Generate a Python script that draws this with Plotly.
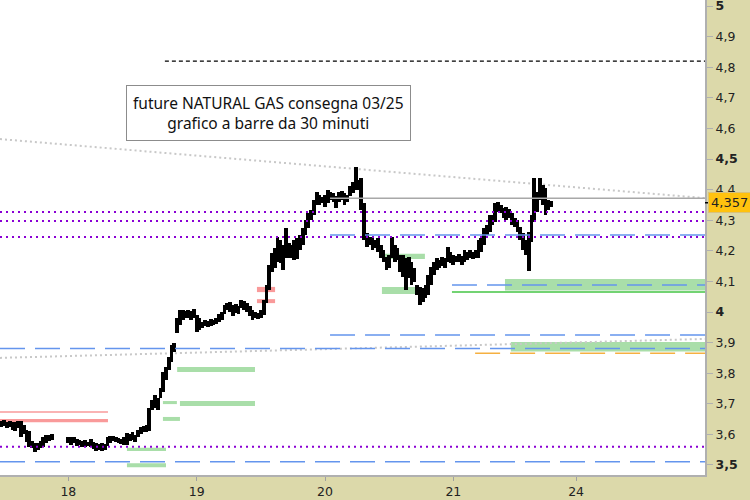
import plotly.graph_objects as go

# ---------------- data ----------------
bar_index = list(range(0, 19)) + list(range(24, 198))
lows = [
    3.625, 3.628, 3.620, 3.625, 3.615, 3.610, 3.620, 3.590, 3.600, 3.575,
    3.560, 3.555, 3.543, 3.550, 3.555, 3.560, 3.572, 3.578, 3.582,
    3.572, 3.565, 3.572, 3.562, 3.565, 3.560, 3.560, 3.562, 3.560, 3.552,
    3.546, 3.550, 3.546, 3.550, 3.562, 3.572, 3.578, 3.575, 3.572, 3.569,
    3.565, 3.565, 3.578, 3.582, 3.575, 3.591, 3.601, 3.608, 3.608, 3.611,
    3.680, 3.686, 3.680, 3.719, 3.739, 3.778, 3.810, 3.837, 3.869, 3.931,
    3.957, 3.974, 3.980, 3.980, 3.974, 3.980, 3.935, 3.941, 3.948, 3.954,
    3.951, 3.954, 3.957, 3.961, 3.967, 3.974, 3.993, 4.007, 4.000, 3.987,
    3.997, 3.993, 4.013, 4.007, 4.000, 3.987, 3.974, 3.980, 3.977, 3.980,
    3.990, 4.030, 4.072, 4.131, 4.144, 4.163, 4.160, 4.137, 4.176, 4.176,
    4.176, 4.170, 4.173, 4.203, 4.219, 4.252, 4.275, 4.301, 4.317, 4.350,
    4.350, 4.356, 4.343, 4.356, 4.366, 4.360, 4.340, 4.360, 4.366, 4.350,
    4.360, 4.379, 4.389, 4.399, 4.399, 4.333, 4.235, 4.212, 4.219, 4.203,
    4.209, 4.196, 4.176, 4.163, 4.137, 4.144, 4.176, 4.163, 4.170, 4.131,
    4.114, 4.072, 4.111, 4.088, 4.098, 4.056, 4.023, 4.033, 4.046, 4.056,
    4.088, 4.121, 4.137, 4.144, 4.150, 4.144, 4.163, 4.160, 4.154, 4.163,
    4.163, 4.154, 4.163, 4.170, 4.176, 4.173, 4.176, 4.176, 4.196, 4.219,
    4.252, 4.260, 4.284, 4.294, 4.327, 4.324, 4.307, 4.301, 4.307, 4.284,
    4.278, 4.261, 4.235, 4.203, 4.186, 4.134, 4.229, 4.294, 4.327, 4.366,
    4.350, 4.317, 4.333, 4.343,
]
highs = [
    3.645, 3.648, 3.640, 3.643, 3.640, 3.640, 3.645, 3.645, 3.630, 3.615,
    3.610, 3.580, 3.572, 3.572, 3.580, 3.590, 3.598, 3.598, 3.602,
    3.592, 3.590, 3.592, 3.585, 3.582, 3.578, 3.582, 3.575, 3.585, 3.575,
    3.572, 3.568, 3.572, 3.568, 3.592, 3.595, 3.595, 3.592, 3.588, 3.585,
    3.592, 3.605, 3.601, 3.608, 3.598, 3.614, 3.624, 3.627, 3.630, 3.686,
    3.712, 3.729, 3.719, 3.752, 3.804, 3.820, 3.853, 3.892, 3.899, 3.980,
    4.007, 4.007, 4.003, 4.007, 4.003, 4.010, 3.990, 3.980, 3.967, 3.974,
    3.970, 3.977, 3.974, 3.980, 3.993, 3.999, 4.023, 4.030, 4.033, 4.023,
    4.026, 4.020, 4.039, 4.036, 4.030, 4.020, 4.007, 4.000, 3.997, 4.007,
    4.039, 4.088, 4.154, 4.193, 4.209, 4.245, 4.235, 4.219, 4.275, 4.225,
    4.219, 4.235, 4.242, 4.252, 4.275, 4.301, 4.324, 4.333, 4.366, 4.392,
    4.382, 4.376, 4.382, 4.399, 4.392, 4.389, 4.379, 4.392, 4.395, 4.389,
    4.382, 4.412, 4.425, 4.474, 4.431, 4.438, 4.356, 4.258, 4.245, 4.242,
    4.235, 4.242, 4.219, 4.203, 4.180, 4.186, 4.245, 4.219, 4.209, 4.186,
    4.186, 4.176, 4.180, 4.163, 4.144, 4.088, 4.082, 4.078, 4.088, 4.121,
    4.147, 4.163, 4.176, 4.170, 4.180, 4.176, 4.212, 4.196, 4.186, 4.183,
    4.190, 4.183, 4.203, 4.196, 4.203, 4.196, 4.203, 4.235, 4.242, 4.275,
    4.284, 4.317, 4.317, 4.356, 4.360, 4.350, 4.340, 4.343, 4.337, 4.324,
    4.307, 4.301, 4.278, 4.258, 4.235, 4.261, 4.317, 4.438, 4.392, 4.438,
    4.415, 4.405, 4.366, 4.363,
]

day_labels = ["18", "19", "20", "21", "24"]
day_start_bar = [24, 70, 116, 162, 206]

y_tick_vals = [3.5, 3.6, 3.7, 3.8, 3.9, 4.0, 4.1, 4.2, 4.3, 4.4, 4.5, 4.6, 4.7, 4.8, 4.9, 5.0]
y_tick_text = ["<b>3,5</b>", "3,6", "3,7", "3,8", "3,9", "<b>4</b>", "4,1", "4,2", "4,3",
               "4,4", "<b>4,5</b>", "4,6", "4,7", "4,8", "4,9", "<b>5</b>"]
last_price = 4.357
last_price_text = "4,357"

title_lines = ["future NATURAL GAS consegna 03/25", "grafico a barre da 30 minuti"]

# levels: (price, start bar)
purple_dotted = [4.327, 4.297, 4.245, 3.560]
blue_dashed = [(3.881, -0.5), (3.511, -0.5), (4.252, 117.8), (3.925, 117.8), (4.088, 161.5)]
black_dashed = [(4.820, 58.6)]
grey_solid = [(4.372, 117.8)]
green_solid = [(4.065, 161.5)]
orange_dashed = [(3.865, 169.8)]
red_thin = [(3.673, -0.5, 38.2)]
# zones: (x0 bar, x1 bar, low price, high price)
red_zones = [(-0.5, 38.2, 3.640, 3.650), (91.6, 98.1, 4.065, 4.082), (91.6, 98.1, 4.029, 4.042)]
green_zones = [
    (180.5, 252.2, 4.070, 4.108), (182.6, 252.2, 3.871, 3.902),
    (136.4, 151.8, 4.173, 4.190), (136.4, 149.3, 4.059, 4.082),
    (63.0, 90.9, 3.804, 3.820), (64.0, 90.9, 3.693, 3.709),
    (57.9, 62.9, 3.699, 3.709), (57.9, 64.0, 3.644, 3.657),
    (45.0, 59.0, 3.546, 3.556), (45.0, 59.0, 3.493, 3.506),
]
# trend lines: (x0, y0, x1, y1)
trend_lines = [(-0.5, 4.565, 252.2, 4.372), (-0.5, 3.850, 252.2, 3.912)]

X_MIN, X_MAX = -0.5, 252.2
Y_MIN, Y_MAX = 3.4673, 5.0196

# ---------------- figure ----------------
fig = go.Figure()
fig.add_trace(go.Bar(
    x=bar_index,
    y=[h - l for h, l in zip(highs, lows)],
    base=lows,
    width=1.35,
    marker=dict(color="black", line=dict(width=0)),
    hoverinfo="skip",
    showlegend=False,
))

shapes = []
for x0, x1, lo, hi in green_zones:
    shapes.append(dict(type="rect", xref="x", yref="y", x0=x0, x1=x1, y0=lo, y1=hi,
                       fillcolor="#A9DEA9", line=dict(width=0), layer="below"))
for x0, x1, lo, hi in red_zones:
    shapes.append(dict(type="rect", xref="x", yref="y", x0=x0, x1=x1, y0=lo, y1=hi,
                       fillcolor="#F99A9A", line=dict(width=0), layer="below"))
for p, x0, x1 in red_thin:
    shapes.append(dict(type="line", xref="x", yref="y", x0=x0, x1=x1, y0=p, y1=p,
                       line=dict(color="#F99A9A", width=1.5), layer="below"))
for x0, y0, x1, y1 in trend_lines:
    shapes.append(dict(type="line", xref="x", yref="y", x0=x0, x1=x1, y0=y0, y1=y1,
                       line=dict(color="#C8C8C8", width=2, dash="2px,3px"), layer="below"))
for p, x0 in blue_dashed:
    shapes.append(dict(type="line", xref="x", yref="y", x0=x0, x1=X_MAX, y0=p, y1=p,
                       line=dict(color="#6495ED", width=1.5, dash="25px,10px"), layer="above"))
for p, x0 in orange_dashed:
    shapes.append(dict(type="line", xref="x", yref="y", x0=x0, x1=X_MAX, y0=p, y1=p,
                       line=dict(color="#F5B041", width=1.5, dash="25px,10px"), layer="above"))
for p, x0 in green_solid:
    shapes.append(dict(type="line", xref="x", yref="y", x0=x0, x1=X_MAX, y0=p, y1=p,
                       line=dict(color="#44C444", width=1.5), layer="above"))
for p, x0 in grey_solid:
    shapes.append(dict(type="line", xref="x", yref="y", x0=x0, x1=X_MAX, y0=p, y1=p,
                       line=dict(color="#A8A8A8", width=1.5), layer="above"))
for p, x0 in black_dashed:
    shapes.append(dict(type="line", xref="x", yref="y", x0=x0, x1=X_MAX, y0=p, y1=p,
                       line=dict(color="black", width=1.2, dash="4px,3px"), layer="above"))
for p in purple_dotted:
    shapes.append(dict(type="line", xref="x", yref="y", x0=X_MIN, x1=X_MAX, y0=p, y1=p,
                       line=dict(color="#8A00D4", width=2, dash="2px,4px"), layer="above"))
# last price tick at the axis
shapes.append(dict(type="line", xref="paper", yref="y", x0=1.0, x1=1.008, y0=last_price, y1=last_price,
                   line=dict(color="black", width=1.5)))

annotations = [
    dict(xref="x", yref="y", x=95.9, y=4.649, text="<br>".join(title_lines), showarrow=False,
         font=dict(family="Noto Sans", size=15.5, color="#111"), align="center",
         bgcolor="white", bordercolor="#8C8C8C", borderwidth=1, borderpad=6),
    dict(xref="paper", yref="y", x=1.0, xanchor="left", xshift=3, y=last_price, text=last_price_text,
         showarrow=False, font=dict(family="DejaVu Sans", size=13, color="#222"),
         bgcolor="#FFC20E", bordercolor="#D9C27A", borderwidth=1, borderpad=2),
]

fig.update_layout(
    width=750, height=500,
    margin=dict(l=0, r=45, t=0, b=25, autoexpand=False),
    paper_bgcolor="#DCD9AA",
    plot_bgcolor="white",
    separators=",.",
    shapes=shapes,
    annotations=annotations,
    showlegend=False,
    bargap=0,
    xaxis=dict(range=[X_MIN, X_MAX], tickvals=day_start_bar, ticktext=day_labels,
               showgrid=False, zeroline=False, ticks="outside", ticklen=4, tickcolor="#A0A0A0",
               showline=True, linecolor="#B0B0B0", linewidth=2, ticklabeloverflow="allow",
               tickfont=dict(family="DejaVu Sans", size=12.5, color="#222")),
    yaxis=dict(range=[Y_MIN, Y_MAX], side="right", tickvals=y_tick_vals, ticktext=y_tick_text,
               showgrid=False, zeroline=False, ticks="outside", ticklen=6, tickcolor="#B0B0B0",
               showline=True, linecolor="#B0B0B0", linewidth=2, ticklabeloverflow="allow",
               tickfont=dict(family="DejaVu Sans", size=12.5, color="#222")),
)

fig.write_html("out.html", config={"displayModeBar": False},
               post_script="document.body.style.margin='0';document.body.style.padding='0';")
